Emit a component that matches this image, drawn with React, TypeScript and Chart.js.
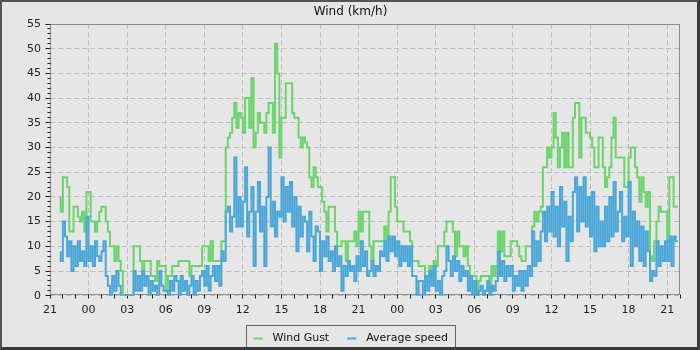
import React, { useEffect, useRef } from 'react';
import { Chart, registerables } from 'chart.js';

Chart.register(...registerables);

const TITLE = 'Wind (km/h)';
const SERIES_NAMES = ['Wind Gust', 'Average speed'];
const GUST_COLOR = '#6cd46c';
const AVG_COLOR = '#4ba7d8';
const FONT = '"DejaVu Sans", sans-serif';

// x axis: hours since 21:00 of the first day
const X_SPAN = 49;
const Y_MAX = 55;
const FIRST_SAMPLE = 5 / 6; // 21:50
const SAMPLE_STEP = 1 / 6; // 10 minutes
const X_TICK_LABELS = ['21', '00', '03', '06', '09', '12', '15', '18', '21', '00', '03', '06', '09', '12', '15', '18', '21'];

// one row per hour (10-minute samples)
const windGust = [
  20,
  17, 24, 24, 22, 13, 13,
  18, 18, 16, 15, 17, 13,
  21, 21, 15, 15, 13, 15,
  17, 18, 18, 15, 13, 10,
  10, 7, 10, 7, 5, 0,
  0, 0, 0, 0, 10, 10,
  10, 7, 5, 7, 7, 7,
  4, 4, 3, 7, 6, 6,
  6, 1, 4, 4, 6, 6,
  6, 7, 7, 7, 7, 7,
  4, 6, 6, 6, 6, 6,
  10, 10, 10, 7, 11, 7,
  7, 7, 7, 11, 11, 30,
  32, 33, 36, 39, 34, 37,
  36, 33, 40, 40, 34, 44,
  30, 33, 37, 35, 35, 33,
  37, 39, 39, 33, 51, 45,
  28, 36, 36, 43, 43, 43,
  37, 36, 36, 32, 30, 32,
  31, 30, 24, 22, 26, 24,
  22, 22, 19, 17, 13, 18,
  18, 18, 13, 10, 10, 11,
  11, 7, 11, 11, 11, 13,
  10, 17, 13, 17, 17, 17,
  10, 7, 11, 11, 11, 11,
  11, 14, 11, 17, 24, 24,
  18, 15, 15, 15, 13, 13,
  13, 11, 7, 7, 7, 6,
  6, 6, 4, 4, 6, 4,
  7, 6, 10, 10, 10, 13,
  15, 15, 15, 13, 8, 13,
  10, 10, 8, 10, 6, 4,
  4, 4, 0, 3, 4, 4,
  4, 4, 1, 6, 4, 6,
  13, 9, 13, 8, 8, 8,
  11, 11, 11, 10, 8, 7,
  7, 10, 10, 10, 14, 17,
  15, 17, 18, 26, 26, 30,
  28, 30, 37, 32, 26, 30,
  33, 26, 33, 26, 26, 36,
  39, 39, 28, 36, 36, 33,
  33, 32, 30, 26, 26, 32,
  32, 26, 22, 24, 26, 32,
  36, 28, 28, 28, 28, 22,
  22, 28, 30, 30, 26, 24,
  19, 24, 21, 18, 21, 8,
  7, 11, 15, 18, 17, 17,
  17, 11, 24, 24, 18, 18,
];

const averageSpeed = [
  9,
  7, 15, 12, 8, 11, 5,
  10, 6, 11, 7, 9, 6,
  16, 7, 10, 6, 11, 8,
  7, 9, 11, 4, 2, 0,
  4, 1, 5, 2, 0, 0,
  0, 0, 0, 0, 5, 1,
  4, 1, 5, 2, 4, 0,
  3, 1, 2, 0, 5, 2,
  1, 1, 0, 3, 1, 4,
  3, 0, 4, 1, 3, 0,
  2, 4, 0, 3, 1, 4,
  5, 2, 6, 1, 4, 6,
  3, 6, 2, 9, 7, 17,
  18, 13, 16, 28, 14, 20,
  14, 19, 26, 12, 17, 22,
  6, 17, 23, 13, 18, 6,
  20, 30, 14, 19, 12, 17,
  16, 24, 15, 22, 17, 23,
  14, 20, 9, 18, 12, 16,
  15, 9, 17, 12, 7, 14,
  13, 5, 11, 8, 12, 7,
  9, 5, 10, 6, 8, 1,
  6, 4, 7, 5, 6, 3,
  8, 5, 11, 6, 9, 4,
  5, 7, 4, 6, 5, 9,
  8, 11, 7, 12, 9, 12,
  8, 11, 6, 10, 7, 10,
  6, 10, 4, 4, 0, 3,
  3, 0, 4, 1, 5, 2,
  6, 1, 3, 0, 4, 5,
  10, 7, 4, 8, 5, 7,
  3, 6, 4, 5, 1, 4,
  0, 3, 0, 1, 2, 0,
  1, 3, 0, 2, 1, 3,
  9, 4, 7, 3, 6, 4,
  6, 1, 4, 2, 5, 1,
  5, 2, 6, 4, 13, 6,
  11, 7, 13, 17, 11, 18,
  13, 21, 12, 18, 10, 22,
  14, 19, 7, 16, 11, 21,
  24, 13, 22, 15, 24, 14,
  20, 12, 21, 9, 18, 10,
  15, 10, 18, 11, 20, 12,
  23, 13, 17, 21, 11, 16,
  12, 23, 6, 17, 10, 15,
  7, 14, 6, 13, 9, 3,
  5, 4, 11, 6, 10, 7,
  11, 7, 12, 6, 12, 11,
];

const toPoints = (arr: number[]) => arr.map((v, i) => ({ x: FIRST_SAMPLE + i * SAMPLE_STEP, y: v }));
const range = (n: number) => Array.from({ length: n + 1 }, (_, i) => i);

const decorPlugin = {
  id: 'decor',
  beforeDatasetsDraw(chart: any) {
    const { ctx, chartArea: a, scales } = chart;
    ctx.save();
    ctx.lineWidth = 1;
    // plot frame
    ctx.strokeStyle = '#8c8c8c';
    const l = Math.round(a.left) + 0.5;
    const t = Math.round(a.top) + 0.5;
    const r = Math.round(a.right) - 0.5;
    const b = Math.floor(a.bottom) - 0.5;
    ctx.strokeRect(l, t, r - l, b - t);
    // tick marks
    ctx.strokeStyle = '#222';
    ctx.beginPath();
    for (const v of range(Y_MAX)) {
      const py = Math.floor(scales.y.getPixelForValue(v)) + 0.5;
      const len = v % 5 === 0 ? 5 : 3;
      ctx.moveTo(l - len, py);
      ctx.lineTo(l, py);
    }
    for (const v of range(X_SPAN)) {
      const px = Math.floor(scales.x.getPixelForValue(v)) + 0.5;
      ctx.moveTo(px, b);
      ctx.lineTo(px, b + 4);
    }
    ctx.stroke();
    ctx.restore();
  },
  afterDraw(chart: any) {
    const { ctx } = chart;
    ctx.save();
    // title
    ctx.fillStyle = '#111';
    ctx.font = `12px ${FONT}`;
    ctx.textAlign = 'center';
    ctx.textBaseline = 'middle';
    ctx.fillText(TITLE, chart.width / 2 + 1, 10);
    // legend
    ctx.font = `11px ${FONT}`;
    const w1 = ctx.measureText(SERIES_NAMES[0]).width;
    const w2 = ctx.measureText(SERIES_NAMES[1]).width;
    const padL = 7, mark = 9, gap = 10, between = 18, padR = 7;
    const total = padL + mark + gap + w1 + between + mark + gap + w2 + padR;
    const bx = Math.round(chart.width / 2 + 1 - total / 2) + 0.5;
    const by = 323.5;
    ctx.fillStyle = '#e6e6e6';
    ctx.fillRect(bx, by, total, 24);
    ctx.strokeStyle = '#666';
    ctx.lineWidth = 1;
    ctx.strokeRect(bx, by, Math.round(total), 24);
    const cy = 336;
    const colors = [GUST_COLOR, AVG_COLOR];
    let x = bx + padL;
    [w1, w2].forEach((w, i) => {
      ctx.strokeStyle = colors[i];
      ctx.lineWidth = 2;
      ctx.beginPath();
      ctx.moveTo(x, cy + 0.5);
      ctx.lineTo(x + mark, cy + 0.5);
      ctx.stroke();
      x += mark + gap;
      ctx.fillStyle = '#111';
      ctx.textAlign = 'left';
      ctx.textBaseline = 'middle';
      ctx.fillText(SERIES_NAMES[i], x, cy);
      x += w + between;
    });
    ctx.restore();
  },
};

export default function App() {
  const ref = useRef<HTMLCanvasElement>(null);
  useEffect(() => {
    const canvas = ref.current;
    if (!canvas) return;
    const chart = new Chart(canvas, {
      type: 'line',
      data: {
        datasets: [
          {
            label: SERIES_NAMES[0],
            data: toPoints(windGust),
            borderColor: GUST_COLOR,
            backgroundColor: GUST_COLOR,
            borderWidth: 2,
            stepped: 'after',
            pointRadius: 0,
            fill: false,
            order: 2,
          },
          {
            label: SERIES_NAMES[1],
            data: toPoints(averageSpeed),
            borderColor: AVG_COLOR,
            backgroundColor: AVG_COLOR,
            borderWidth: 2,
            stepped: 'after',
            pointRadius: 0,
            fill: false,
            order: 1,
          },
        ],
      },
      options: {
        animation: false,
        responsive: false,
        maintainAspectRatio: false,
        layout: { padding: { left: 0, right: 17, top: 22, bottom: 21.3 } },
        plugins: {
          legend: { display: false },
          title: { display: false },
          tooltip: { enabled: false },
        },
        scales: {
          x: {
            type: 'linear',
            min: 0,
            max: X_SPAN,
            afterBuildTicks: (s: any) => {
              s.ticks = range(X_SPAN).map((v) => ({ value: v }));
            },
            afterFit: (s: any) => {
              s.height = 30;
            },
            ticks: {
              autoSkip: false,
              maxRotation: 0,
              minRotation: 0,
              padding: 8,
              color: '#222',
              font: { family: FONT, size: 11 },
              callback: (v: any) => (Number(v) % 3 === 0 ? X_TICK_LABELS[Number(v) / 3] : ''),
            },
            grid: {
              drawTicks: false,
              lineWidth: 1,
              color: (c: any) => (c.tick && c.tick.value % 3 === 0 ? '#bdbdbd' : 'rgba(0,0,0,0)'),
            },
            border: { display: false, dash: [5, 3] },
          },
          y: {
            type: 'linear',
            min: 0,
            max: Y_MAX,
            afterBuildTicks: (s: any) => {
              s.ticks = range(Y_MAX).map((v) => ({ value: v }));
            },
            afterFit: (s: any) => {
              s.width = 48;
            },
            ticks: {
              autoSkip: false,
              padding: 9,
              color: '#222',
              font: { family: FONT, size: 11 },
              callback: (v: any) => (Number(v) % 5 === 0 ? String(v) : ''),
            },
            grid: {
              drawTicks: false,
              lineWidth: 1,
              color: (c: any) => (c.tick && c.tick.value % 5 === 0 ? '#bdbdbd' : 'rgba(0,0,0,0)'),
            },
            border: { display: false, dash: [5, 3] },
          },
        },
      },
      plugins: [decorPlugin],
    } as any);
    return () => chart.destroy();
  }, []);

  return (
    <div
      style={{
        position: 'fixed',
        left: 0,
        top: 0,
        width: 700,
        height: 350,
        boxSizing: 'border-box',
        borderTop: '2px solid #555',
        borderLeft: '2px solid #555',
        borderRight: '3px solid #3c3c3c',
        borderBottom: '3px solid #3c3c3c',
        background: '#e6e6e6',
      }}
    >
      <canvas ref={ref} width={695} height={345} style={{ display: 'block', width: 695, height: 345 }} />
    </div>
  );
}
